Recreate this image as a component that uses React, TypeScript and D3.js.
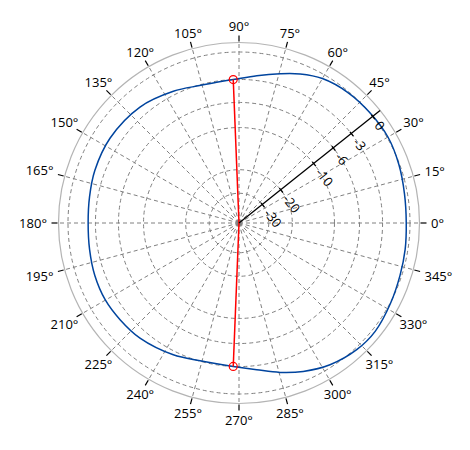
import React from 'react';
import * as d3 from 'd3';

// ---- data ----
const angleTicks: number[] = d3.range(0, 360, 15);
const angleLabels: string[] = angleTicks.map((a) => `${a}°`);
const magTicks: number[] = [0, -3, -6, -10, -20, -30];
const magLabels: string[] = ['0', '-3', '-6', '-10', '-20', '-30'];

const patternAngles: number[] = [
  0, 10, 20, 30, 40, 50, 60, 67.7, 74.6, 83.1, 92.3, 99, 106, 116.5, 130.5, 146.6,
  160, 170, 180, 190, 200, 209.8, 219.1, 229.3, 243.5, 254.2, 261, 267.7, 276.9,
  285.3, 293.4, 302.7, 312.9, 321.5, 332, 342, 351,
];
const patternDb: number[] = [
  -0.38, -0.3, -0.08, 0.1, 0.02, -0.1, -0.43, -1.03, -1.71, -2.43, -3.0, -3.12, -3.07,
  -2.58, -1.97, -1.76, -1.86, -2.05, -2.15, -2.05, -1.86, -1.77, -1.88, -2.04, -2.57,
  -3.06, -3.12, -3.0, -2.5, -1.7, -0.96, -0.26, 0.19, 0.3, 0.05, -0.17, -0.28,
];
const markerAngles: number[] = [92.3, 267.7];
const markerDb: number[] = [-3, -3];

// ---- layout ----
const W = 470;
const H = 450;
const CX = 239;
const CY = 223;
const R0 = 171;
const ROUT = 180.5;
const AXIS_ANGLE = 38.6;
const FONT = "'Open Sans', 'Noto Sans', sans-serif";

// ARRL-style log scale: radius ~ power^0.2531
const rScale = d3.scalePow().exponent(0.2531).domain([0, 1]).range([0, R0]);
const rOf = (db: number) => rScale(Math.pow(10, db / 10));
const aScale = d3.scaleLinear().domain([0, 360]).range([0, 2 * Math.PI]);
const pt = (deg: number, r: number): [number, number] => {
  const a = aScale(deg);
  return [CX + r * Math.cos(a), CY - r * Math.sin(a)];
};

const charW = (c: string) => (c === '°' ? 5.6 : c === '-' ? 4.2 : 7.44);

export default function App() {
  const pts: [number, number][] = patternAngles.map((a, i) => pt(a, rOf(patternDb[i])));
  const curve = d3.line().curve(d3.curveCatmullRomClosed.alpha(0.5))(pts) || '';

  const axA = aScale(AXIS_ANGLE);
  const u = [Math.cos(axA), -Math.sin(axA)];
  const perp = [Math.sin(axA), Math.cos(axA)];
  const axEnd = pt(AXIS_ANGLE, ROUT);

  return (
    <svg
      width={W}
      height={H}
      style={{ position: 'absolute', left: 0, top: 0, background: '#fff' }}
      fontFamily={FONT}
    >
      <rect x={0} y={0} width={W} height={H} fill="#fff" />
      {/* radial dashed lines */}
      {angleTicks.map((a) => {
        const p = pt(a, ROUT);
        return (
          <line
            key={'rl' + a}
            x1={CX}
            y1={CY}
            x2={p[0]}
            y2={p[1]}
            stroke="#808080"
            strokeWidth={1}
            strokeDasharray="4,3"
          />
        );
      })}
      {/* dashed circles */}
      {magTicks.map((m) => (
        <circle
          key={'c' + m}
          cx={CX}
          cy={CY}
          r={rOf(m)}
          fill="none"
          stroke="#808080"
          strokeWidth={1}
          strokeDasharray="4,3"
        />
      ))}
      {/* outer circle */}
      <circle cx={CX} cy={CY} r={ROUT} fill="none" stroke="#b4b4b4" strokeWidth={1.2} />
      {/* outer ticks and labels */}
      {angleTicks.map((a, i) => {
        const p1 = pt(a, ROUT + 1);
        const p2 = pt(a, ROUT + 7);
        const lab = angleLabels[i];
        const w = lab.split('').reduce((s, c) => s + charW(c), 0);
        const h = 9.5;
        const ar = aScale(a);
        const c = Math.abs(Math.cos(ar));
        const s = Math.abs(Math.sin(ar));
        const ext = Math.min(c > 1e-6 ? w / 2 / c : 1e9, s > 1e-6 ? h / 2 / s : 1e9);
        const pc = pt(a, 192 + ext);
        return (
          <g key={'t' + a}>
            <line x1={p1[0]} y1={p1[1]} x2={p2[0]} y2={p2[1]} stroke="#000" strokeWidth={1.2} />
            <text
              x={pc[0]}
              y={pc[1]}
              textAnchor="middle"
              dominantBaseline="central"
              fontSize={13}
              fill="#000"
            >
              {lab}
            </text>
          </g>
        );
      })}
      {/* pattern */}
      <path d={curve} fill="none" stroke="#00449e" strokeWidth={1.5} />
      {/* beamwidth markers */}
      {markerAngles.map((a, i) => {
        const p = pt(a, rOf(markerDb[i]));
        return (
          <g key={'m' + a}>
            <line x1={CX} y1={CY} x2={p[0]} y2={p[1]} stroke="#ff0000" strokeWidth={1.5} />
            <circle cx={p[0]} cy={p[1]} r={4} fill="none" stroke="#ff0000" strokeWidth={1.2} />
          </g>
        );
      })}
      {/* magnitude axis */}
      <line x1={CX} y1={CY} x2={axEnd[0]} y2={axEnd[1]} stroke="#000" strokeWidth={1.3} />
      {magTicks.map((m, i) => {
        const r = rOf(m);
        const bx = CX + r * u[0];
        const by = CY + r * u[1];
        const tx = bx + 8 * perp[0];
        const ty = by + 8 * perp[1];
        return (
          <g key={'mt' + m}>
            <line
              x1={bx - 2 * perp[0]}
              y1={by - 2 * perp[1]}
              x2={bx + 3.5 * perp[0]}
              y2={by + 3.5 * perp[1]}
              stroke="#000"
              strokeWidth={1.3}
            />
            <text
              x={tx}
              y={ty}
              fontSize={13}
              fill="#000"
              textAnchor="start"
              dominantBaseline="central"
              transform={`rotate(${90 - AXIS_ANGLE} ${tx} ${ty})`}
            >
              {magLabels[i]}
            </text>
          </g>
        );
      })}
    </svg>
  );
}
